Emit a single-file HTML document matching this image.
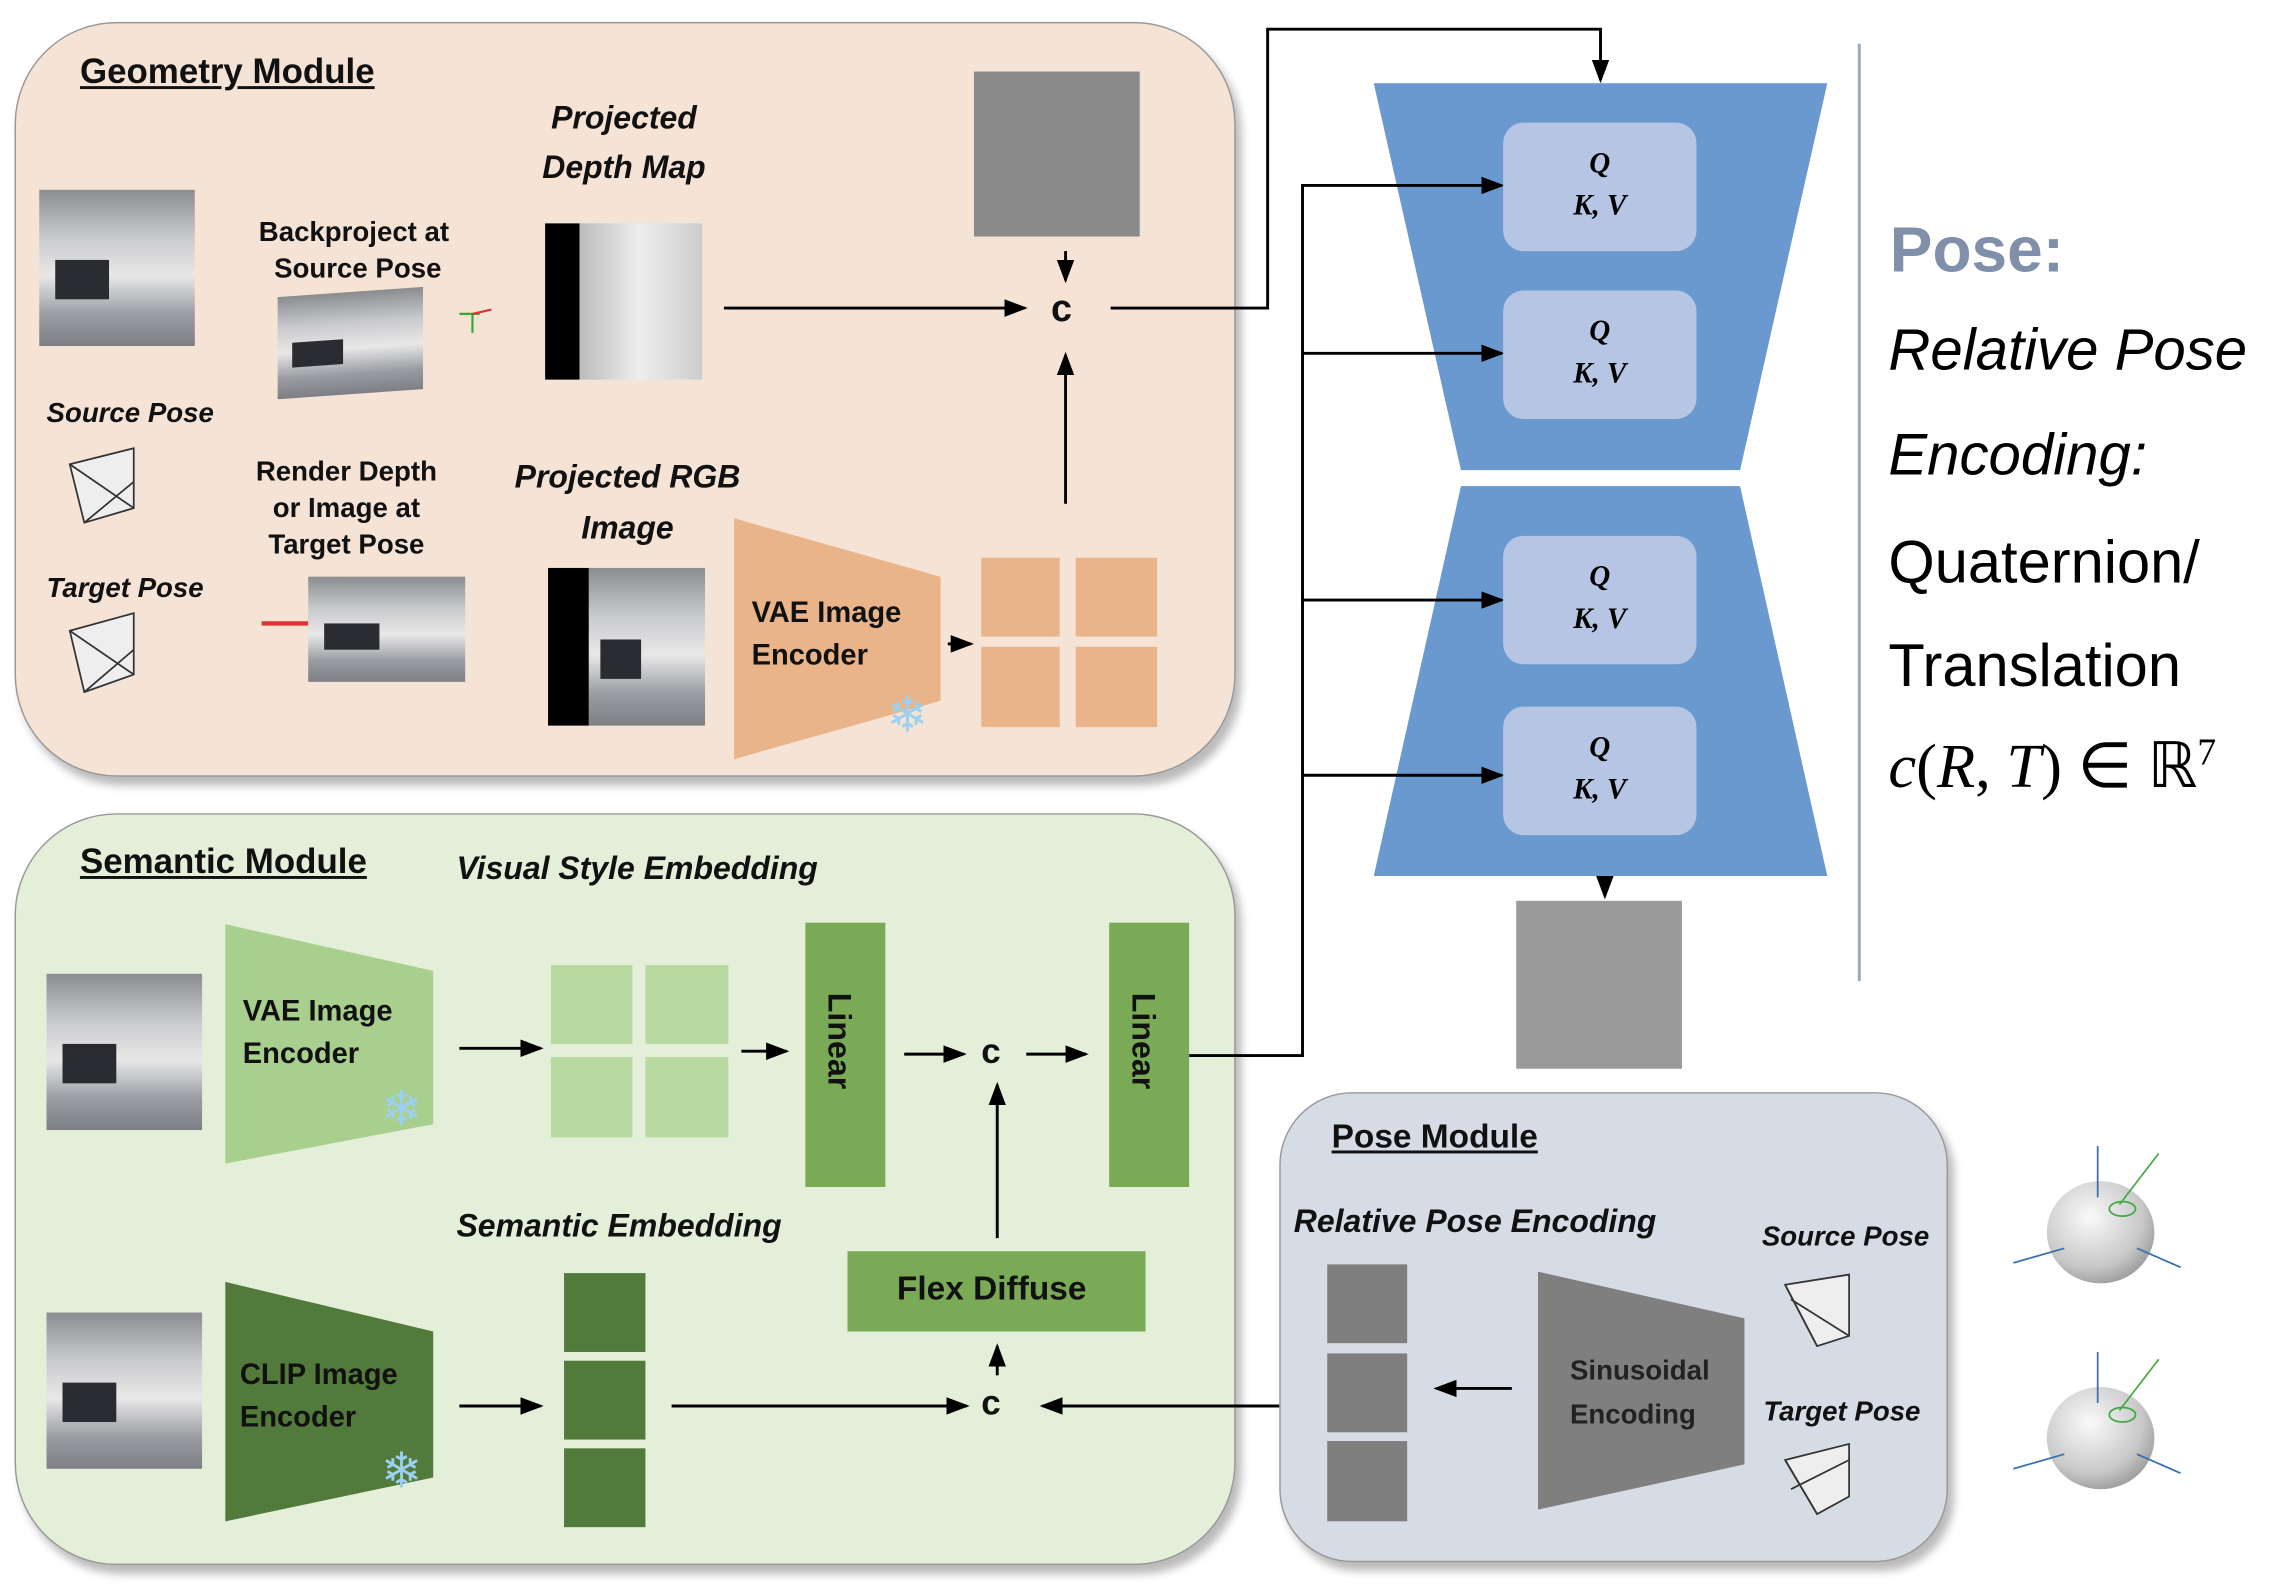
<!DOCTYPE html><html><head><style>
body{margin:0;background:#fff;overflow:hidden}
#w{position:absolute;left:0;top:0;width:1567px;height:1087px;transform:scale(1.4537,1.4600);transform-origin:0 0;font-family:"Liberation Sans",sans-serif}
.a{position:absolute;white-space:nowrap}
.t{position:absolute;font-weight:bold;color:#111;white-space:nowrap}
.i{font-style:italic}
.ph{position:absolute;background:linear-gradient(180deg,#8a8c90 0%,#c8c9cc 30%,#e8e8e8 55%,#9a9ca2 80%,#7d7f85 100%)}
.ph:after{content:"";position:absolute;left:10%;top:45%;width:35%;height:25%;background:#2a2c32}
.noise{position:absolute;background:#8a8a8a}
.q{position:absolute;left:1034px;width:133px;height:88px;background:#b6c5e3;border-radius:14px;text-align:center;font:italic bold 20px "Liberation Serif",serif;line-height:29px;padding-top:14px;box-sizing:border-box}
</style></head><body><div id="w">
<div class="a" style="left:10px;top:15px;width:838px;height:515px;background:#f5e3d6;border:1.5px solid #999;border-radius:70px;box-shadow:4px 6px 6px #bbb"></div>
<div class="a" style="left:10px;top:557px;width:838px;height:513px;background:#e3efd9;border:1.5px solid #999;border-radius:70px;box-shadow:4px 6px 6px #bbb"></div>
<div class="a" style="left:880px;top:748px;width:458px;height:320px;background:#d6dce6;border:1.5px solid #999;border-radius:50px;box-shadow:4px 6px 6px #bbb"></div>

<svg class="a" style="left:0;top:0" width="1567" height="1087">
<defs><marker id="m" markerWidth="8" markerHeight="8" refX="7" refY="4" orient="auto"><path d="M0,1 L8,4 L0,7z" fill="#000"/></marker>
<radialGradient id="sg" cx="0.4" cy="0.35" r="0.7"><stop offset="0" stop-color="#fafafa"/><stop offset="0.7" stop-color="#c8c8c8"/><stop offset="1" stop-color="#999"/></radialGradient></defs>
<polygon points="945,57 1257,57 1197,322 1005,322" fill="#6a99cf"/>
<polygon points="1005,333 1197,333 1257,600 945,600" fill="#6a99cf"/>
<polygon points="505,355 647,395 647,480 505,520" fill="#e9b489"/>
<polygon points="155,633 298,665 298,770 155,797" fill="#a9cf8e"/>
<polygon points="155,878 298,912 298,1012 155,1042" fill="#527a3a"/>
<polygon points="1058,871 1200,903 1200,1003 1058,1034" fill="#7f7f7f"/>
<g stroke="#000" stroke-width="2" fill="none">
<path d="M498,211 H705" marker-end="url(#m)"/>
<path d="M733,172 V192" marker-end="url(#m)"/>
<path d="M733,345 V243" marker-end="url(#m)"/>
<path d="M652,441 H668" marker-end="url(#m)"/>
<path d="M764,211 H872 V20 H1101 V55" marker-end="url(#m)"/>
<path d="M818,723 H896 V127 H1033" marker-end="url(#m)"/>
<path d="M896,242 H1033" marker-end="url(#m)"/>
<path d="M896,411 H1033" marker-end="url(#m)"/>
<path d="M896,531 H1033" marker-end="url(#m)"/>
<path d="M1104,604 V614" marker-end="url(#m)"/>
<path d="M316,718 H372" marker-end="url(#m)"/>
<path d="M510,720 H541" marker-end="url(#m)"/>
<path d="M622,722 H663" marker-end="url(#m)"/>
<path d="M706,722 H747" marker-end="url(#m)"/>
<path d="M686,848 V743" marker-end="url(#m)"/>
<path d="M686,942 V922" marker-end="url(#m)"/>
<path d="M316,963 H372" marker-end="url(#m)"/>
<path d="M462,963 H665" marker-end="url(#m)"/>
<path d="M880,963 H717" marker-end="url(#m)"/>
<path d="M1040,951 H988" marker-end="url(#m)"/>
</g>
<line x1="1279" y1="30" x2="1279" y2="672" stroke="#9aa8bd" stroke-width="2"/>
<g fill="#eee" stroke="#333" stroke-width="1.2">
<polygon points="48,318 92,307 92,348 58,358"/><path d="M48,318 L92,348 M58,358 L92,330"/>
<polygon points="48,432 92,420 92,462 58,474"/><path d="M48,432 L92,462 M58,474 L92,445"/>
<polygon points="1228,880 1272,873 1272,915 1250,922"/><path d="M1228,880 L1250,922 M1232,890 L1272,915"/>
<polygon points="1228,1000 1272,989 1272,1025 1250,1037"/><path d="M1228,1000 L1250,1037 M1232,1020 L1272,1000"/>
</g>
<g fill="url(#sg)"><ellipse cx="1445" cy="844" rx="37" ry="35"/><ellipse cx="1445" cy="985" rx="37" ry="35"/></g>
<g stroke="#3a6fb0" stroke-width="1.2"><path d="M1443,820 V785 M1420,855 L1385,865 M1470,855 L1500,868 M1443,961 V926 M1420,996 L1385,1006 M1470,996 L1500,1009"/></g>
<g stroke="#4a4" stroke-width="1.2" fill="none"><path d="M1458,825 L1485,790 M1458,966 L1485,931"/><ellipse cx="1460" cy="828" rx="9" ry="5"/><ellipse cx="1460" cy="969" rx="9" ry="5"/></g>
<path d="M180,427 H232" stroke-width="3" stroke="#d33"/><path d="M233,433 V395" stroke="#3c3" stroke-width="3"/>
<path d="M316,215 H330 M325,215 V228" stroke="#3a3" stroke-width="1.5"/><path d="M325,215 L338,212" stroke="#d33" stroke-width="1.5"/>
</svg>

<div class="t" style="left:55px;top:36px;font-size:24px;text-decoration:underline">Geometry Module</div>
<div class="ph" style="left:27px;top:130px;width:107px;height:107px"></div>
<div class="t" style="left:178px;top:147px;font-size:19px;text-align:center;line-height:25px">Backproject at<br>&nbsp;Source Pose</div>
<div class="ph" style="left:191px;top:200px;width:100px;height:70px;transform:skewY(-4deg)"></div>
<div class="t i" style="left:373px;top:64px;font-size:22px;text-align:center;line-height:34px">Projected<br>Depth Map</div>
<div class="a" style="left:375px;top:153px;width:108px;height:107px;background:linear-gradient(90deg,#000 22%,#bbb 22%,#eee 60%,#ccc)"></div>
<div class="noise" style="left:670px;top:49px;width:114px;height:113px"></div>
<div class="t" style="left:723px;top:196px;font-size:26px">c</div>
<div class="t i" style="left:32px;top:273px;font-size:19px">Source Pose</div>
<div class="t" style="left:176px;top:311px;font-size:19px;text-align:center;line-height:25px">Render Depth<br>or Image at<br>Target Pose</div>
<div class="t i" style="left:354px;top:309px;font-size:22px;text-align:center;line-height:35px">Projected RGB<br>Image</div>
<div class="t i" style="left:32px;top:393px;font-size:19px">Target Pose</div>
<div class="ph" style="left:212px;top:395px;width:108px;height:72px"></div>
<div class="ph" style="left:377px;top:389px;width:108px;height:108px;border-left:28px solid #000;box-sizing:border-box"></div>
<div class="t" style="left:517px;top:406px;font-size:20px;line-height:29px">VAE Image<br>Encoder</div>
<div class="a" style="left:610px;top:470px;font-size:34px;color:#9cd0f0">❄</div>
<div class="a" style="left:675px;top:382px;width:54px;height:54px;background:#e9b489"></div>
<div class="a" style="left:740px;top:382px;width:56px;height:54px;background:#e9b489"></div>
<div class="a" style="left:675px;top:443px;width:54px;height:55px;background:#e9b489"></div>
<div class="a" style="left:740px;top:443px;width:56px;height:55px;background:#e9b489"></div>

<div class="q" style="top:84px">Q<br>K, V</div>
<div class="q" style="top:199px">Q<br>K, V</div>
<div class="q" style="top:367px">Q<br>K, V</div>
<div class="q" style="top:484px">Q<br>K, V</div>
<div class="noise" style="left:1043px;top:617px;width:114px;height:115px;background:#9a9a9a"></div>

<div class="t" style="left:1300px;top:147px;font-size:44px;color:#8090aa">Pose:</div>
<div class="a" style="left:1299px;top:218px;font-size:40px;font-style:italic">Relative Pose</div>
<div class="a" style="left:1299px;top:290px;font-size:40px;font-style:italic">Encoding:</div>
<div class="a" style="left:1299px;top:362px;font-size:41px">Quaternion/</div>
<div class="a" style="left:1299px;top:433px;font-size:41px">Translation</div>
<div class="a" style="left:1299px;top:500px;font-size:43px;font-family:'Liberation Serif',serif"><i>c</i>(<i>R</i>, <i>T</i>) ∈ ℝ<sup style="font-size:26px">7</sup></div>

<div class="t" style="left:55px;top:577px;font-size:24px;text-decoration:underline">Semantic Module</div>
<div class="t i" style="left:314px;top:582px;font-size:22px">Visual Style Embedding</div>
<div class="ph" style="left:32px;top:667px;width:107px;height:107px"></div>
<div class="t" style="left:167px;top:679px;font-size:20px;line-height:29px">VAE Image<br>Encoder</div>
<div class="a" style="left:262px;top:740px;font-size:34px;color:#9cd0f0">❄</div>
<div class="a" style="left:379px;top:661px;width:56px;height:54px;background:#b8d9a0"></div>
<div class="a" style="left:444px;top:661px;width:57px;height:54px;background:#b8d9a0"></div>
<div class="a" style="left:379px;top:724px;width:56px;height:55px;background:#b8d9a0"></div>
<div class="a" style="left:444px;top:724px;width:57px;height:55px;background:#b8d9a0"></div>
<div class="a" style="left:554px;top:632px;width:55px;height:181px;background:#7aaa55"></div>
<div class="t" style="left:566px;top:680px;font-size:22px;transform:rotate(90deg);transform-origin:12px 12px">Linear</div>
<div class="t" style="left:675px;top:707px;font-size:24px">c</div>
<div class="a" style="left:763px;top:632px;width:55px;height:181px;background:#7aaa55"></div>
<div class="t" style="left:775px;top:680px;font-size:22px;transform:rotate(90deg);transform-origin:12px 12px">Linear</div>
<div class="t i" style="left:314px;top:827px;font-size:22px">Semantic Embedding</div>
<div class="a" style="left:583px;top:857px;width:205px;height:55px;background:#7aaa55"></div>
<div class="t" style="left:617px;top:869px;font-size:23px">Flex Diffuse</div>
<div class="ph" style="left:32px;top:899px;width:107px;height:107px"></div>
<div class="t" style="left:165px;top:928px;font-size:20px;line-height:29px">CLIP Image<br>Encoder</div>
<div class="a" style="left:262px;top:988px;font-size:34px;color:#9cd0f0">❄</div>
<div class="a" style="left:388px;top:872px;width:56px;height:54px;background:#527a3a"></div>
<div class="a" style="left:388px;top:932px;width:56px;height:54px;background:#527a3a"></div>
<div class="a" style="left:388px;top:992px;width:56px;height:54px;background:#527a3a"></div>
<div class="t" style="left:675px;top:948px;font-size:24px">c</div>

<div class="t" style="left:916px;top:765px;font-size:23px;text-decoration:underline">Pose Module</div>
<div class="t i" style="left:890px;top:824px;font-size:22px">Relative Pose Encoding</div>
<div class="t i" style="left:1212px;top:837px;font-size:19px">Source Pose</div>
<div class="t i" style="left:1213px;top:957px;font-size:19px">Target Pose</div>
<div class="a" style="left:913px;top:866px;width:55px;height:54px;background:#7f7f7f"></div>
<div class="a" style="left:913px;top:927px;width:55px;height:54px;background:#7f7f7f"></div>
<div class="a" style="left:913px;top:987px;width:55px;height:55px;background:#7f7f7f"></div>
<div class="t" style="left:1080px;top:925px;font-size:19px;line-height:30px;color:#222">Sinusoidal<br>Encoding</div>
</div></body></html>
